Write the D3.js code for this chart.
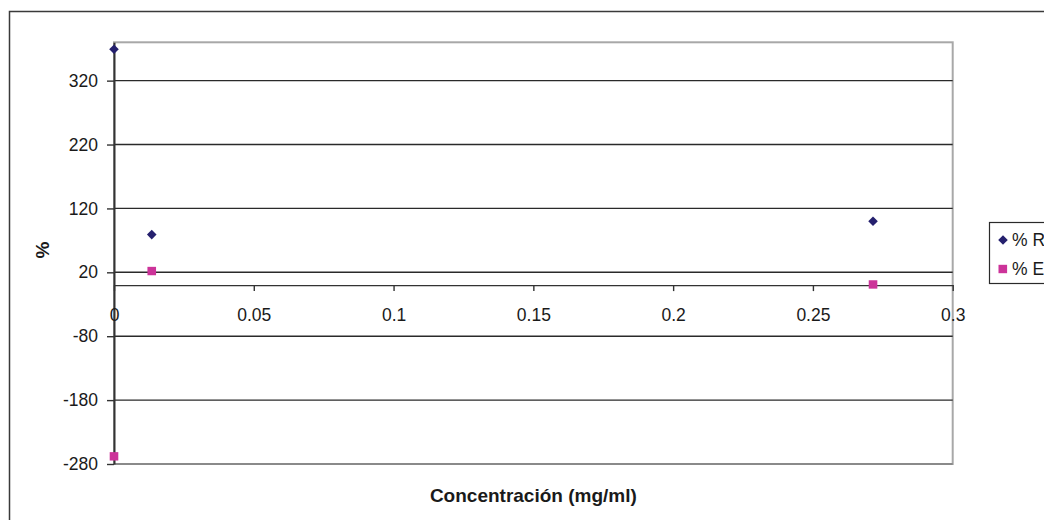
<!DOCTYPE html>
<html>
<head>
<meta charset="utf-8">
<script src="https://cdn.jsdelivr.net/npm/d3@7"></script>
<style>
  html, body { margin: 0; padding: 0; background: #fff; }
  svg { display: block; font-family: "Liberation Sans", Arial, sans-serif; }
</style>
</head>
<body>
<svg id="chart" width="1044" height="520"></svg>
<script>
// Concentration values (mg/ml) shared by both series
const concentracion = [0, 0.0135, 0.2715];
// % Recuperación
const recuperacion = [369, 79, 100];
// % Error
const error = [-268, 22, 1];

const seriesNames = ["% Recuperación", "% Error"];
const xTicks = [0, 0.05, 0.1, 0.15, 0.2, 0.25, 0.3];
const xTickLabels = ["0", "0.05", "0.1", "0.15", "0.2", "0.25", "0.3"];
const yTicks = [-280, -180, -80, 20, 120, 220, 320];
const yTickLabels = ["-280", "-180", "-80", "20", "120", "220", "320"];
const yDomain = [-280, 380];
const xDomain = [0, 0.3];

const svg = d3.select("#chart");
const W = 1044, H = 520;
const plot = { left: 114, right: 952.7, top: 42.3, bottom: 464 };

const x = d3.scaleLinear().domain(xDomain).range([plot.left, plot.right]);
const y = d3.scaleLinear().domain(yDomain).range([plot.bottom, plot.top]);

svg.append("rect").attr("width", W).attr("height", H).attr("fill", "#fff");

// chart area frame (runs past the page edge on the right and bottom)
svg.append("rect")
  .attr("x", 9.5).attr("y", 11.5)
  .attr("width", 1100).attr("height", 540)
  .attr("fill", "none").attr("stroke", "#3a3a3a").attr("stroke-width", 1.5);

// plot area border
svg.append("rect")
  .attr("x", plot.left).attr("y", plot.top)
  .attr("width", plot.right - plot.left).attr("height", plot.bottom - plot.top)
  .attr("fill", "none").attr("stroke", "#a8a8a8").attr("stroke-width", 2);

// horizontal gridlines
svg.append("g").selectAll("line").data(yTicks).join("line")
  .attr("x1", plot.left).attr("x2", plot.right)
  .attr("y1", d => y(d)).attr("y2", d => y(d))
  .attr("stroke", d => d === yDomain[0] ? "#808080" : "#2a2a2a")
  .attr("stroke-width", 1.4);

const fontSize = 17.5;

// y axis
const yAxis = d3.axisLeft(y)
  .tickValues(yTicks)
  .tickFormat((d, i) => yTickLabels[i])
  .tickSize(7).tickSizeOuter(0).tickPadding(9);
const gy = svg.append("g").attr("transform", `translate(${plot.left},0)`).call(yAxis);
gy.select(".domain").attr("stroke", "#333").attr("stroke-width", 2);
gy.selectAll(".tick line").attr("stroke", "#333").attr("stroke-width", 1.4);
gy.selectAll(".tick text").attr("fill", "#1a1a1a").style("font-size", fontSize + "px")
  .style("font-family", "Liberation Sans, Arial, sans-serif");

// x axis crossing at zero
const xAxis = d3.axisBottom(x)
  .tickValues(xTicks)
  .tickFormat((d, i) => xTickLabels[i])
  .tickSize(6).tickSizeOuter(0).tickPadding(17);
const gx = svg.append("g").attr("transform", `translate(0,${y(0)})`).call(xAxis);
gx.select(".domain").attr("stroke", "#333").attr("stroke-width", 1.4);
gx.selectAll(".tick line").attr("stroke", "#333").attr("stroke-width", 1.4);
gx.selectAll(".tick text").attr("fill", "#1a1a1a").style("font-size", fontSize + "px")
  .style("font-family", "Liberation Sans, Arial, sans-serif");

// axis titles
svg.append("text")
  .attr("transform", `translate(49,${(plot.top + plot.bottom) / 2 - 3}) rotate(-90)`)
  .attr("text-anchor", "middle")
  .style("font-size", "19px").style("font-weight", "bold").attr("fill", "#1a1a1a")
  .text("%");
svg.append("text")
  .attr("x", (plot.left + plot.right) / 2).attr("y", 502)
  .attr("text-anchor", "middle")
  .style("font-size", "19px").style("font-weight", "bold").attr("fill", "#1a1a1a")
  .text("Concentración (mg/ml)");

// markers
const navy = "#25206e", pink = "#cc3399";
const diamond = d3.symbol().type(d3.symbolSquare).size(46);
svg.append("g").selectAll("path").data(concentracion.map((c, i) => [c, recuperacion[i]])).join("path")
  .attr("d", diamond)
  .attr("transform", d => `translate(${x(d[0])},${y(d[1])}) rotate(45)`)
  .attr("fill", navy);
svg.append("g").selectAll("rect").data(concentracion.map((c, i) => [c, error[i]])).join("rect")
  .attr("x", d => x(d[0]) - 4.3).attr("y", d => y(d[1]) - 4.2)
  .attr("width", 8.6).attr("height", 8.4)
  .attr("fill", pink);

// legend
const lg = svg.append("g");
lg.append("rect")
  .attr("x", 989.5).attr("y", 222.5).attr("width", 120).attr("height", 61)
  .attr("fill", "#fff").attr("stroke", "#2a2a2a").attr("stroke-width", 1.2);
lg.append("path").attr("d", diamond)
  .attr("transform", "translate(1003,240) rotate(45)").attr("fill", navy);
lg.append("rect").attr("x", 998.5).attr("y", 264.8).attr("width", 8.6).attr("height", 8.4).attr("fill", pink);
lg.selectAll("text").data(seriesNames).join("text")
  .attr("x", 1012).attr("y", (d, i) => 246 + i * 29)
  .style("font-size", fontSize + "px").attr("fill", "#1a1a1a")
  .text(d => d);
</script>
</body>
</html>
